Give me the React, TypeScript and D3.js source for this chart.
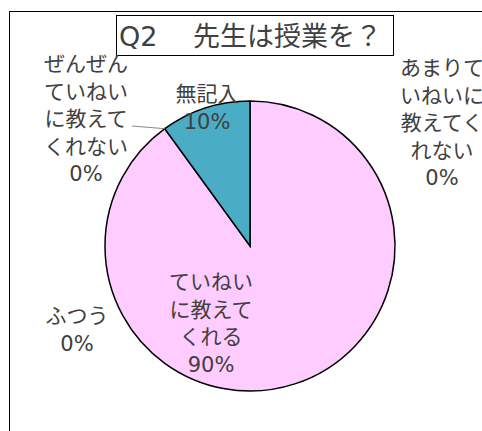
import React from "react";
import * as d3 from "d3";

const categories = [
  "ていねいに教えてくれる",
  "ふつう",
  "あまりていねいに教えてくれない",
  "ぜんぜんていねいに教えてくれない",
  "無記入",
];
const values = [90, 0, 0, 0, 10];
const labelLines = [
  ["ていねい", "に教えて", "くれる"],
  ["ふつう"],
  ["あまりて", "いねいに", "教えてく", "れない"],
  ["ぜんぜん", "ていねい", "に教えて", "くれない"],
  ["無記入"],
];
const colors = ["#FFCCFF", "#FFCCFF", "#FFCCFF", "#FFCCFF", "#4BACC6"];
const titleParts = ["Q2", "先生は授業を？"];

// label anchor positions (centre x, first line y)
const labelPos = [
  { x: 211, y: 289 },
  { x: 77, y: 323 },
  { x: 442, y: 75 },
  { x: 86, y: 71 },
  { x: 207, y: 101 },
];

export default function App() {
  const W = 482;
  const H = 431;
  const cx = 250;
  const cy = 246;
  const R = 145;
  const pie = d3
    .pie<number>()
    .sort(null)
    .value((d) => d)
    .startAngle(0)
    .endAngle(2 * Math.PI);
  const arcs = pie(values);
  const arc = d3.arc<d3.PieArcDatum<number>>().innerRadius(0).outerRadius(R);
  const total = d3.sum(values);
  const lh = 27.5;
  const font = "'DejaVu Sans', 'Noto Sans CJK JP', sans-serif";

  const zeroArc = arcs[3];
  const ex = cx + R * Math.sin(zeroArc.startAngle);
  const ey = cy - R * Math.cos(zeroArc.startAngle);

  return (
    <svg
      width={W}
      height={H}
      style={{ position: "absolute", left: 0, top: 0, background: "#fff" }}
    >
      <rect x={9.5} y={11.5} width={W + 20} height={H + 20} fill="#fff" stroke="#000" strokeWidth={1} />
      <rect x={116.5} y={15.5} width={277} height={40} fill="#fff" stroke="#000" strokeWidth={1} />
      <text y={46} fontFamily={font} fontSize={27} fill="#404040">
        <tspan x={119}>{titleParts[0]}</tspan>
        <tspan x={193}>{titleParts[1]}</tspan>
      </text>
      <g transform={`translate(${cx},${cy})`}>
        {arcs.map((a, i) =>
          a.value > 0 ? (
            <path key={i} d={arc(a) || ""} fill={colors[i]} stroke="#000" strokeWidth={1.5} />
          ) : null
        )}
      </g>
      <line x1={132} y1={126} x2={ex} y2={ey} stroke="#888" strokeWidth={1} />
      {categories.map((c, i) => {
        const lines = [...labelLines[i], `${Math.round((values[i] / total) * 100)}%`];
        const p = labelPos[i];
        return (
          <text key={c} fontFamily={font} fontSize={21} fill="#404040" textAnchor="middle">
            {lines.map((l, j) => (
              <tspan key={j} x={p.x} y={p.y + j * lh}>
                {l}
              </tspan>
            ))}
          </text>
        );
      })}
    </svg>
  );
}
